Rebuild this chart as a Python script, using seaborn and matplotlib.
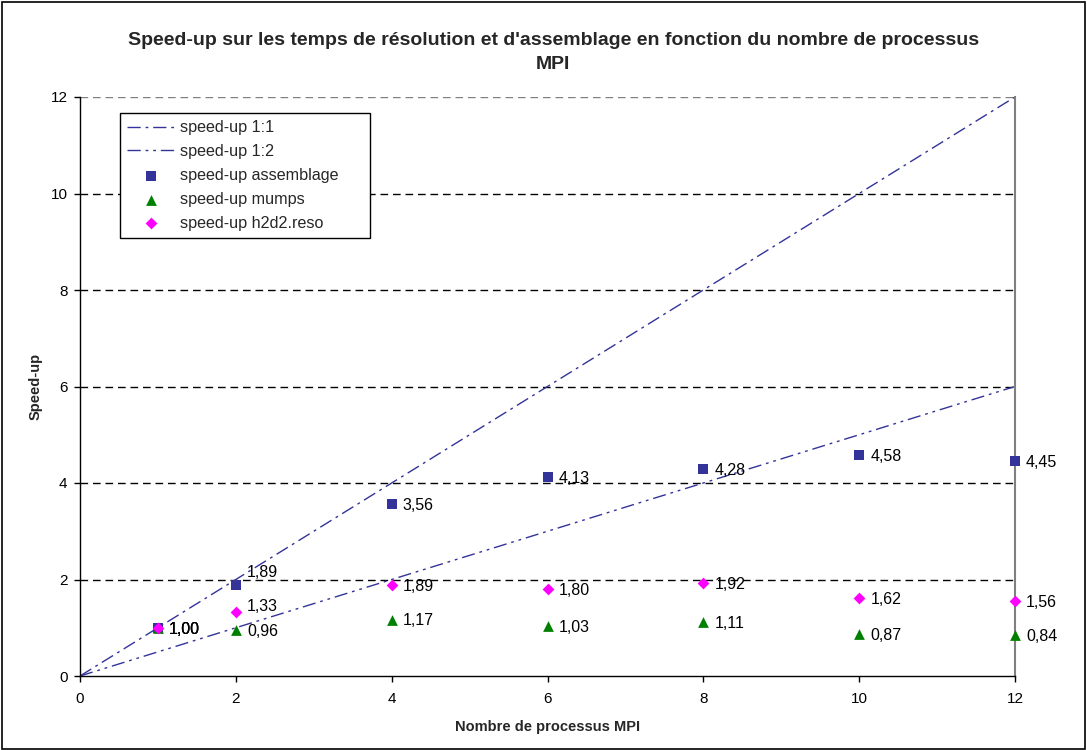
import matplotlib
matplotlib.use("Agg")
import matplotlib.pyplot as plt
import seaborn as sns
import pandas as pd

# Number of MPI processes and measured speed-ups
procs = [1, 2, 4, 6, 8, 10, 12]
speedup_assemblage = [1.00, 1.89, 3.56, 4.13, 4.28, 4.58, 4.45]
speedup_mumps = [1.00, 0.96, 1.17, 1.03, 1.11, 0.87, 0.84]
speedup_reso = [1.00, 1.33, 1.89, 1.80, 1.92, 1.62, 1.56]

# Reference ideal speed-up lines
ref_x = [0, 12]
ref_11 = [0, 12]
ref_12 = [0, 6]

sns.set_theme(style="white")
plt.rcParams['font.family'] = ['Liberation Sans', 'DejaVu Sans']

fig = plt.figure(figsize=(10.87, 7.5), dpi=100)
ax = fig.add_axes([80 / 1087, 74 / 750, 935 / 1087, 579 / 750])

navy = "#333399"
green = "#008000"
magenta = "#FF00FF"

# horizontal grid
for yv in [2, 4, 6, 8, 10, 12]:
    ax.axhline(yv, color="black" if yv < 12 else "#808080", lw=1.0,
               dashes=(5.5, 3.5), zorder=0)

lines = pd.DataFrame({"x": ref_x, "y11": ref_11, "y12": ref_12})
sns.lineplot(data=lines, x="x", y="y11", ax=ax, color=navy, lw=1.0,
             label="speed-up 1:1")
sns.lineplot(data=lines, x="x", y="y12", ax=ax, color=navy, lw=1.0,
             label="speed-up 1:2")
ax.lines[-2].set_dashes((9.5, 3.5, 2, 3.5))
ax.lines[-1].set_dashes((9.5, 3.5, 2, 3.5, 2, 3.5))

df = pd.DataFrame({"procs": procs, "ass": speedup_assemblage,
                   "mumps": speedup_mumps, "reso": speedup_reso})
sns.scatterplot(data=df, x="procs", y="ass", ax=ax, marker="s", s=50,
                color=navy, edgecolor=navy, linewidth=0,
                label="speed-up assemblage", zorder=3, clip_on=False)
sns.scatterplot(data=df, x="procs", y="mumps", ax=ax, marker="^", s=60,
                color=green, edgecolor=green, linewidth=0,
                label="speed-up mumps", zorder=3, clip_on=False)
sns.scatterplot(data=df, x="procs", y="reso", ax=ax, marker="D", s=36,
                color=magenta, edgecolor=magenta, linewidth=0,
                label="speed-up h2d2.reso", zorder=4, clip_on=False)

# value labels (nudged upward where points crowd at 2 processes)
nudge = {("ass", 2): 9, ("reso", 2): 4}
for key, series in (("ass", speedup_assemblage), ("mumps", speedup_mumps),
                    ("reso", speedup_reso)):
    for xv, yv in zip(procs, series):
        dy = nudge.get((key, xv), -1)
        ax.annotate(f"{yv:.2f}".replace(".", ","), (xv, yv),
                    xytext=(8, dy), textcoords="offset points",
                    ha="left", va="center", fontsize=11.5, color="black")

ax.set_xlim(0, 12)
ax.set_ylim(0, 12)
ax.set_xticks(range(0, 13, 2))
ax.set_yticks(range(0, 13, 2))
ax.tick_params(axis="both", labelsize=11, length=4, width=1,
               direction="out", colors="black", bottom=True, left=True)
ax.tick_params(axis="x", pad=7.5)
ax.tick_params(axis="y", pad=5)

for side in ("left", "bottom"):
    ax.spines[side].set_color("black")
    ax.spines[side].set_linewidth(1.0)
ax.spines["right"].set_color("#808080")
ax.spines["right"].set_linewidth(1.5)
ax.spines["top"].set_visible(False)

ax.set_xlabel("Nombre de processus MPI", fontsize=10.5, fontweight="bold",
              labelpad=10)
ax.set_ylabel("Speed-up", fontsize=10.5, fontweight="bold", labelpad=6)

fig.suptitle("Speed-up sur les temps de résolution et d'assemblage en fonction du nombre de processus\nMPI",
             fontsize=14, fontweight="bold", x=0.509, y=0.957, linespacing=1.5)

leg = ax.legend(loc="upper left",
                bbox_to_anchor=(0.0428, 0.7617, 0.267, 0.2107),
                mode="expand", fontsize=11.6, frameon=True, fancybox=False,
                framealpha=1, edgecolor="black", borderpad=0.45,
                handlelength=2.9, handletextpad=0.35, labelspacing=0.55,
                borderaxespad=0)
leg.get_frame().set_linewidth(1.0)

# outer border of the figure
fig.patches.append(plt.Rectangle((0.002, 0.002), 0.996, 0.996,
                                 transform=fig.transFigure, fill=False,
                                 edgecolor="black", lw=1.2))

fig.savefig("out.png", dpi=100)
